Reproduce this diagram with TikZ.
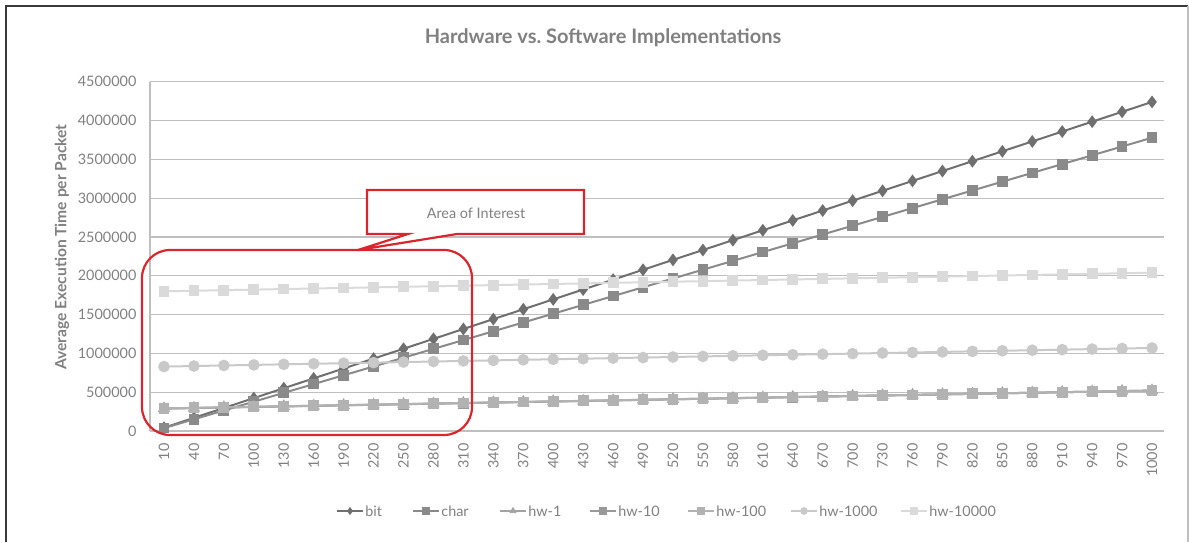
\documentclass[tikz,border=0pt]{standalone}
\usepackage{fontspec}
\setmainfont{Lato}
\usetikzlibrary{plotmarks}

\definecolor{txtgray}{HTML}{808080}
\definecolor{gridgray}{HTML}{BFBFBF}
\definecolor{framedark}{HTML}{3A3A3A}
\definecolor{callred}{HTML}{D9262C}
\definecolor{bitcol}{HTML}{6F6F6F}
\definecolor{charcol}{HTML}{8A8A8A}
\definecolor{hwonecol}{HTML}{A3A3A3}
\definecolor{hwtencol}{HTML}{999999}
\definecolor{hwhundcol}{HTML}{B2B2B2}
\definecolor{hwthoucol}{HTML}{C9C9C9}
\definecolor{hwtenthoucol}{HTML}{DADADA}

\begin{document}
\begin{tikzpicture}[
                x = 0.5pt, y = -0.5pt,
                lbl/.style = {text = txtgray, inner sep = 0pt, font = \fontsize{7.2}{8}\selectfont},
                ytick/.style = {lbl, anchor = east},
                xtick/.style = {lbl, anchor = east, rotate = 90},
                grid/.style = {draw = gridgray, line width = 0.6pt},
                series/.style = {line width = 1pt},
                red/.style = {draw = callred, line width = 1.1pt},
            ]
            \useasboundingbox (0, 0) rectangle (1189, 542);

            % outer frame
            \draw[framedark, line width = 0.9pt] (6, 542) -- (6, 6) -- (1188, 6);
            \draw[gridgray, line width = 0.9pt] (1188, 6) -- (1188, 542);

            \node (title) at (603, 38) [text = txtgray, font = \fontsize{10}{12}\selectfont\bfseries] {Hardware vs.\ Software Implementations};
            \node (ylabel) at (62, 247) [rotate = 90, text = txtgray, font = \fontsize{7.8}{9}\selectfont\bfseries] {Average Execution Time per Packet};

            \begin{scope}[shift = {(82pt, -215.5pt)}, x = 14.97pt, y = 3.88pt]
                \foreach \v/\t in {0/0, 5/500000, 10/1000000, 15/1500000, 20/2000000,
                                   25/2500000, 30/3000000, 35/3500000, 40/4000000, 45/4500000} {
                    \draw[grid] (-0.47, \v) -- (33.4, \v);
                    \node (y\v) at (-0.91, \v) [ytick] {\t};
                }
                \draw[grid] (-0.47, 0) -- (-0.47, 45);

                \foreach \i [evaluate = \i as \n using int(10 + 30*\i)] in {0, ..., 33}
                    \node (x\i) at (\i, -1.55) [xtick] {\n};

                % data, in units of 100000
                \draw[series, bitcol, mark = diamond*, mark size = 2.4pt]
                    plot[variable = \i, samples at = {0, ..., 33}] (\i, {0.0424*(10 + 30*\i)});
                \draw[series, charcol, mark = square*, mark size = 2.2pt]
                    plot[variable = \i, samples at = {0, ..., 33}] (\i, {0.0378*(10 + 30*\i)});
                \draw[series, hwonecol, mark = triangle*, mark size = 2.6pt]
                    plot[variable = \i, samples at = {0, ..., 33}] (\i, {2.877 + 0.00233*(10 + 30*\i)});
                \draw[series, hwtencol, mark = square*, mark size = 2.2pt]
                    plot[variable = \i, samples at = {0, ..., 33}] (\i, {2.86 + 0.00235*(10 + 30*\i)});
                \draw[series, hwhundcol, mark = square*, mark size = 2.2pt]
                    plot[variable = \i, samples at = {0, ..., 33}] (\i, {2.89 + 0.00232*(10 + 30*\i)});
                \draw[series, hwthoucol, mark = *, mark size = 2.4pt]
                    plot[variable = \i, samples at = {0, ..., 33}] (\i, {8.276 + 0.00242*(10 + 30*\i)});
                \draw[series, hwtenthoucol, mark = square*, mark size = 2.2pt]
                    plot[variable = \i, samples at = {0, ..., 33}] (\i, {17.976 + 0.00242*(10 + 30*\i)});
            \end{scope}

            % area of interest
            \draw[red, rounded corners = 14pt] (142, 250) rectangle (472, 435);
            \coordinate (tip) at (358, 250);
            \draw[red, fill = white] (367, 190) -- (584, 190) -- (584, 234) -- (457, 234)
                -- (tip) -- (408, 234) -- (367, 234) -- cycle;
            \node (aoi) at (476, 213) [lbl] {Area of Interest};

            % legend
            \foreach \nm/\col/\mk/\xs in {bit/bitcol/diamond*/337, char/charcol/square*/413,
                                          hw-1/hwonecol/triangle*/500, hw-10/hwtencol/square*/590,
                                          hw-100/hwhundcol/square*/688, hw-1000/hwthoucol/*/791,
                                          hw-10000/hwtenthoucol/square*/901} {
                \draw[series, \col] (\xs, 511) -- ++(26, 0);
                \path[\col] plot[mark = \mk, mark size = 1.7pt] coordinates {(\xs + 13, 511)};
                \node (leg-\nm) at (\xs + 28, 511) [lbl, anchor = west] {\nm};
            }
        \end{tikzpicture}
\end{document}
